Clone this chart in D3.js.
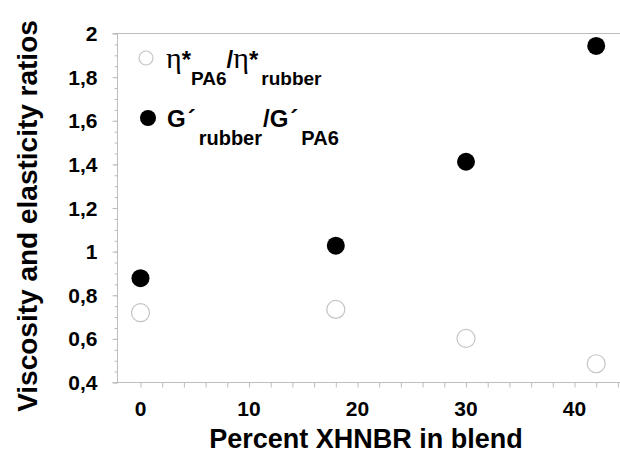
<!DOCTYPE html>
<html>
<head>
<meta charset="utf-8">
<script src="https://cdn.jsdelivr.net/npm/d3@7"></script>
<style>
  html, body { margin: 0; padding: 0; background: #fff; }
  svg { display: block; }
  text { font-family: "Liberation Sans", Arial, sans-serif; font-weight: bold; fill: #000; }
</style>
</head>
<body>
<svg id="chart" width="620" height="455"></svg>
<script>
// Blend composition (percent XHNBR)
const percentXHNBR = [0, 18, 30, 42];
// Viscosity ratio  eta*_PA6 / eta*_rubber
const viscosityRatio = [0.72, 0.735, 0.602, 0.486];
// Elasticity ratio  G'_rubber / G'_PA6
const elasticityRatio = [0.878, 1.027, 1.412, 1.943];

const xTickValues = [0, 10, 20, 30, 40];
const yTickValues = [0.4, 0.6, 0.8, 1.0, 1.2, 1.4, 1.6, 1.8, 2.0];
const yTickLabels = ["0,4", "0,6", "0,8", "1", "1,2", "1,4", "1,6", "1,8", "2"];

const W = 620, H = 455;
const plot = { left: 117.5, top: 33.5, bottom: 382.5 };

const svg = d3.select("#chart");

const x = d3.scaleLinear().domain([-2.12, 46]).range([plot.left, plot.left + 48.12 * 10.85]);
const y = d3.scaleLinear().domain([0.4, 2.0]).range([plot.bottom, plot.top]);

const axisColor = "#bdbdbd";

// top boundary line at y = 2
svg.append("line")
  .attr("x1", plot.left - 5).attr("x2", W)
  .attr("y1", y(2)).attr("y2", y(2))
  .attr("stroke", axisColor).attr("stroke-width", 1);

// x axis: ticks every 2 units, labels every 10
const xAxisG = svg.append("g").attr("transform", `translate(0,${plot.bottom})`);
xAxisG.append("line")
  .attr("x1", plot.left - 5).attr("x2", W)
  .attr("stroke", axisColor).attr("stroke-width", 1);
xAxisG.call(
  d3.axisBottom(x).tickValues(d3.range(0, 46, 2)).tickSize(5).tickFormat("")
);
xAxisG.select(".domain").remove();
xAxisG.selectAll(".tick line").attr("stroke", axisColor);
xTickValues.forEach(v => {
  xAxisG.append("text")
    .attr("x", x(v)).attr("y", 33)
    .attr("text-anchor", "middle")
    .attr("font-size", 21)
    .text(v);
});

// y axis: minor ticks every 0.05, major every 0.2
const yAxisG = svg.append("g").attr("transform", `translate(${plot.left},0)`);
yAxisG.append("line")
  .attr("y1", plot.top).attr("y2", plot.bottom)
  .attr("stroke", axisColor).attr("stroke-width", 1);
yAxisG.call(
  d3.axisLeft(y).tickValues(d3.range(0, 33).map(i => 0.4 + i * 0.05)).tickSize(3).tickFormat("")
);
yAxisG.select(".domain").remove();
yAxisG.selectAll(".tick line").attr("stroke", axisColor);
yAxisG.append("g").call(
  d3.axisLeft(y).tickValues(yTickValues).tickSize(5).tickFormat("")
).call(g => g.select(".domain").remove())
 .call(g => g.selectAll(".tick line").attr("stroke", axisColor));
yTickValues.forEach((v, i) => {
  yAxisG.append("text")
    .attr("x", -20).attr("y", y(v))
    .attr("dy", "0.36em")
    .attr("text-anchor", "end")
    .attr("font-size", 21)
    .text(yTickLabels[i]);
});

// axis titles
svg.append("text")
  .attr("x", 366).attr("y", 448)
  .attr("text-anchor", "middle")
  .attr("font-size", 27)
  .text("Percent XHNBR in blend");

svg.append("text")
  .attr("transform", `translate(37,${(plot.top + plot.bottom) / 2 + 8}) rotate(-90)`)
  .attr("text-anchor", "middle")
  .attr("font-size", 28)
  .text("Viscosity and elasticity ratios");

// data points
const markR = 9;
svg.append("g").selectAll("circle")
  .data(percentXHNBR.map((p, i) => ({ p, v: viscosityRatio[i] })))
  .join("circle")
  .attr("cx", d => x(d.p)).attr("cy", d => y(d.v))
  .attr("r", markR)
  .attr("fill", "#fff").attr("stroke", "#c4c4c4").attr("stroke-width", 1.2);

svg.append("g").selectAll("circle")
  .data(percentXHNBR.map((p, i) => ({ p, v: elasticityRatio[i] })))
  .join("circle")
  .attr("cx", d => x(d.p)).attr("cy", d => y(d.v))
  .attr("r", markR)
  .attr("fill", "#000");

// legend
const legend = svg.append("g");
legend.append("circle")
  .attr("cx", 146).attr("cy", 58).attr("r", 7)
  .attr("fill", "#fff").attr("stroke", "#c4c4c4").attr("stroke-width", 1.2);
legend.append("circle")
  .attr("cx", 148).attr("cy", 118).attr("r", 8)
  .attr("fill", "#000");

const t1 = legend.append("text").attr("x", 166).attr("y", 68).attr("font-size", 24);
t1.append("tspan").attr("font-family", "Liberation Serif").attr("font-weight", "normal").attr("font-size", 30).text("η");
t1.append("tspan").text("*");
t1.append("tspan").attr("font-size", 19).attr("dy", 17).text("PA6");
t1.append("tspan").attr("dy", -17).text("/");
t1.append("tspan").attr("font-family", "Liberation Serif").attr("font-weight", "normal").attr("font-size", 30).text("η");
t1.append("tspan").text("*");
t1.append("tspan").attr("font-size", 19).attr("dy", 17).attr("dx", 3).text("rubber");

const t2 = legend.append("text").attr("x", 167).attr("y", 127).attr("font-size", 24);
t2.append("tspan").text("G");
t2.append("tspan").attr("dx", 2).text("´");
t2.append("tspan").attr("font-size", 20).attr("dy", 18).attr("dx", 3).text("rubber");
t2.append("tspan").attr("dy", -18).attr("dx", 1).text("/G");
t2.append("tspan").attr("dx", 2).text("´");
t2.append("tspan").attr("font-size", 20).attr("dy", 18).attr("dx", 3).text("PA6");
</script>
</body>
</html>
